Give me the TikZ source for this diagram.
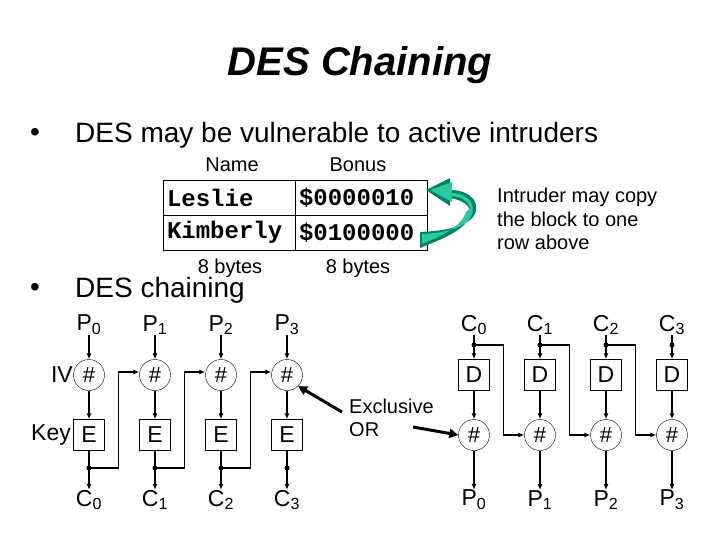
\documentclass[tikz,border=0pt]{standalone}
\usepackage{fontspec}
\setmainfont{Liberation Sans}
\newfontfamily\monob{Liberation Mono}
\usetikzlibrary{arrows.meta}
\definecolor{tdark}{RGB}{0,130,100}
\definecolor{tlight}{RGB}{40,200,160}
\begin{document}
\begin{tikzpicture}[x=1pt,y=-1pt,
  lbl/.style={font=\fontsize{23}{25}\selectfont,inner sep=0pt},
  small/.style={font=\fontsize{20}{23.5}\selectfont,inner sep=0pt},
  big/.style={font=\fontsize{28}{32}\selectfont,inner sep=0pt,anchor=west},
  xorc/.style={draw,circle,minimum size=31pt,inner sep=0pt,font=\fontsize{22}{24}\selectfont},
  boxn/.style={draw,minimum size=31pt,inner sep=0pt,font=\fontsize{23}{25}\selectfont},
  dotn/.style={circle,fill,inner sep=0pt,minimum size=5pt},
  conn/.style={line width=1.5pt,-{Latex[length=6pt,width=5pt]}},
  cell/.style={draw,minimum height=35pt,inner sep=4pt,text width=124pt,align=left,font=\monob\bfseries\fontsize{24}{26}\selectfont}]
\useasboundingbox (0,0) rectangle (720,540);
\node[font=\bfseries\itshape\fontsize{40}{44}\selectfont] (title) at (360,65) {DES Chaining};
\node[big] (bu1) at (30,135) {\textbullet};
\node[big] (b1) at (75,135) {DES may be vulnerable to active intruders};
\node[big] (bu2) at (30,290) {\textbullet};
\node[big] (b2) at (75,290) {DES chaining};
% table
\node[cell] (l) at (229,197.5) {Leslie};
\node[cell] (lb) at (361,197.5) {\$0000010};
\node[cell] (k) at (229,232.5) {Kimberly};
\node[cell] (kb) at (361,232.5) {\$0100000};
\node[small] (nm) at (232,165) {Name};
\node[small] (bo) at (358,165) {Bonus};
\node[small] (by1) at (230,268) {8 bytes};
\node[small] (by2) at (358,268) {8 bytes};
\fill[tdark] (420,232) .. controls (470,230) and (482,215) .. (474,200) .. controls (468,192) and (458,190) .. (450,190) -- (450,178) -- (426,190) -- (450,206) -- (450,198) .. controls (462,200) and (470,205) .. (470,212) .. controls (470,228) and (445,238) .. (420,248) -- cycle;
\fill[tlight] (422,234) .. controls (466,232) and (478,217) .. (471,202) .. controls (466,195) and (458,193) .. (452,193) -- (452,182) -- (430,190) -- (452,202) -- (452,196) .. controls (460,197) and (468,200) .. (470,208) -- (466,212) .. controls (462,226) and (442,236) .. (422,244) -- cycle;
\node[small,align=left,anchor=west] (intr) at (497,219) {Intruder may copy\\the block to one\\row above};
% left chain
\foreach \i/\x in {0/89,1/155,2/221,3/287}{
  \node[lbl] (p\i) at (\x,325) {P\textsubscript{\i}};
  \node[xorc] (x\i) at (\x,375) {\#};
  \node[boxn] (e\i) at (\x,435) {E};
  \node[dotn] (d\i) at (\x,468) {};
  \node[lbl] (c\i) at (\x,500) {C\textsubscript{\i}};
  \draw[conn] (p\i) -- (x\i);
  \draw[conn] (x\i) -- (e\i);
  \draw[line width=1.5pt] (e\i) -- (d\i.center);
  \draw[conn] (d\i.center) -- (c\i);
}
\foreach \a/\b in {0/1,1/2,2/3}{
  \draw[conn] (d\a.center) -| ([xshift=-21pt,yshift=3pt]x\b.west) -- ([yshift=3pt]x\b.west);
}
\node[lbl,anchor=east] (iv) at (73,375) {IV};
\node[lbl,anchor=east] (key) at (71,435) {Key};
\node[small,align=left,anchor=west] (exo) at (349,418) {Exclusive\\OR};
\draw[line width=3pt,-{Triangle[length=9pt,width=9pt]}] (342,412) -- (x3.south east);
% right chain
\foreach \i/\x in {0/474,1/540,2/606,3/672}{
  \node[lbl] (rc\i) at (\x,325) {C\textsubscript{\i}};
  \node[dotn] (rd\i) at (\x,345) {};
  \node[boxn] (dd\i) at (\x,375) {D};
  \node[xorc] (rx\i) at (\x,435) {\#};
  \node[lbl] (rp\i) at (\x,500) {P\textsubscript{\i}};
  \draw[line width=1.5pt] (rc\i) -- (rd\i.center);
  \draw[conn] (rd\i.center) -- (dd\i);
  \draw[conn] (dd\i) -- (rx\i);
  \draw[conn] (rx\i) -- (rp\i);
}
\foreach \a/\b in {0/1,1/2,2/3}{
  \draw[conn] (rd\a.center) -| ([xshift=-21pt]rx\b.west) -- (rx\b.west);
}
\draw[line width=3pt,-{Triangle[length=9pt,width=9pt]}] (413,427) -- (rx0.west);
\end{tikzpicture}
\end{document}
